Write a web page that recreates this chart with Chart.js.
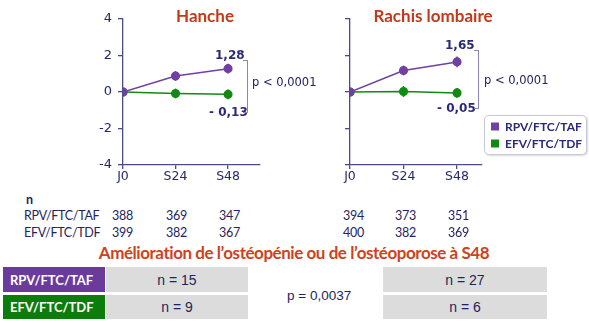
<!DOCTYPE html>
<html>
<head>
<meta charset="utf-8">
<script src="https://cdn.jsdelivr.net/npm/chart.js@4/dist/chart.umd.min.js"></script>
<style>
  html, body { margin:0; padding:0; background:#fff; }
  #root { position:relative; width:589px; height:324px; overflow:hidden; font-family:"DejaVu Sans", sans-serif; color:#1f2460; }
  .abs { position:absolute; white-space:nowrap; }
  .title { font-family:Lato, "Open Sans", sans-serif; font-weight:bold; font-size:17px; color:#c23a19; transform:translate(-50%,-50%); }
  .val { font-family:"DejaVu Sans", sans-serif; font-weight:bold; font-size:12px; color:#2a2a78; transform:translateY(-50%); }
  .pv { font-family:"DejaVu Sans", sans-serif; font-size:11.5px; color:#1f2460; transform:translateY(-50%); }
  .brk { position:absolute; border:1.3px solid #8a84b8; border-left:none; width:4px; }
  .ntab { font-family:Lato, "Open Sans", sans-serif; font-size:12.5px; letter-spacing:-0.3px; color:#1f2460; transform:translateY(-50%); }
  .leg { position:absolute; left:484px; top:115px; width:101px; height:38px; border:1px solid #c8c8dc; border-radius:5px; box-shadow:1px 1px 2px rgba(0,0,0,0.15); background:#fff; }
  .legrow { position:absolute; left:6px; font-family:Lato, "Open Sans", sans-serif; font-weight:bold; font-size:12px; color:#2a2a78; transform:translateY(-50%); }
  .legsq { display:inline-block; width:8px; height:8px; margin-right:6px; vertical-align:-0px; }
  .box { position:absolute; display:flex; align-items:center; justify-content:center; font-family:"Liberation Sans", Arial, sans-serif; font-size:14px; color:#1f2460; }
  .gbox { background:#dcdcdc; }
  .cbox { color:#fff; font-family:Lato, "Open Sans", sans-serif; font-weight:bold; font-size:13px; justify-content:flex-start; padding-left:7px; box-sizing:border-box; }
</style>
</head>
<body>
<div id="root">
  <canvas id="c1" class="abs" style="left:0;top:0;"></canvas>
  <canvas id="c2" class="abs" style="left:300px;top:0;"></canvas>
</div>
<script>
// ---------- data ----------
const categories = ['J0', 'S24', 'S48'];
const weeks = [0, 24, 48];
const yTicks = [-4, -2, 0, 2, 4];
const seriesNames = ['RPV/FTC/TAF', 'EFV/FTC/TDF'];

const hancheRPV = [0, 0.88, 1.28];
const hancheEFV = [0, -0.08, -0.13];
const hancheRPVerr = [0, 0.27, 0.27];
const hancheEFVerr = [0, 0.27, 0.27];

const rachisRPV = [0, 1.18, 1.65];
const rachisEFV = [0, 0.03, -0.05];
const rachisRPVerr = [0, 0.27, 0.3];
const rachisEFVerr = [0, 0.3, 0.27];

const panelTitles = ['Hanche', 'Rachis lombaire'];
const endLabelsHanche = ['1,28', '- 0,13'];
const endLabelsRachis = ['1,65', '- 0,05'];
const pChart = 'p < 0,0001';

const nHeader = 'n';
const nHancheRPV = [388, 369, 347];
const nHancheEFV = [399, 382, 367];
const nRachisRPV = [394, 373, 351];
const nRachisEFV = [400, 382, 369];

const subTitle = 'Amélioration de l\u2019ostéopénie ou de l\u2019ostéoporose à S48';
const improvHanche = [15, 9];
const improvRachis = [27, 6];
const pImprov = 'p = 0,0037';

// ---------- styles ----------
const PURPLE = '#7040a2';
const GREEN = '#128a12';
const AXIS = '#4b4b8c';
const TICKTXT = '#25286a';

const errPlugin = {
  id: 'errbars',
  afterDatasetsDraw(chart) {
    const ctx = chart.ctx, ys = chart.scales.y;
    chart.data.datasets.forEach((ds, i) => {
      const meta = chart.getDatasetMeta(i);
      ctx.save();
      ctx.strokeStyle = ds.borderColor;
      ctx.lineWidth = 1.5;
      meta.data.forEach((pt, j) => {
        const e = ds.err[j];
        if (!e) return;
        const v = ds.data[j].y;
        ctx.beginPath();
        ctx.moveTo(pt.x, ys.getPixelForValue(v + e));
        ctx.lineTo(pt.x, ys.getPixelForValue(v - e));
        ctx.stroke();
      });
      ctx.restore();
    });
  }
};

function makeChart(id, w, h, rpv, efv, rpvErr, efvErr, showY, yWidth, padRight, xMax) {
  const cv = document.getElementById(id);
  cv.width = w; cv.height = h; cv.style.width = w + 'px'; cv.style.height = h + 'px';
  const mk = (arr) => arr.map((v, i) => ({ x: weeks[i], y: v }));
  return new Chart(cv, {
    type: 'line',
    data: {
      datasets: [
        { label: seriesNames[0], data: mk(rpv), err: rpvErr, borderColor: PURPLE, backgroundColor: PURPLE,
          borderWidth: 1.5, pointRadius: 3.8, pointStyle: 'circle', tension: 0 },
        { label: seriesNames[1], data: mk(efv), err: efvErr, borderColor: GREEN, backgroundColor: GREEN,
          borderWidth: 1.5, pointRadius: 3.8, pointStyle: 'circle', tension: 0 }
      ]
    },
    options: {
      responsive: false, animation: false, devicePixelRatio: 1,
      layout: { padding: { top: 19, right: padRight, left: 0, bottom: 0 } },
      plugins: { legend: { display: false }, tooltip: { enabled: false } },
      scales: {
        x: {
          type: 'linear', min: 0, max: xMax,
          afterBuildTicks: (s) => { s.ticks = weeks.map(v => ({ value: v })); },
          afterFit: (s) => { s.height = 20; },
          border: { display: true, color: AXIS, width: 1.3 },
          grid: { display: true, drawOnChartArea: false, drawTicks: true, tickLength: 4, color: AXIS, lineWidth: 1.3 },
          ticks: { color: TICKTXT, padding: 0, maxRotation: 0, autoSkip: false,
            font: { family: 'DejaVu Sans', size: 12.5 },
            callback: (v) => { const i = weeks.indexOf(v); return i >= 0 ? categories[i] : ''; } }
        },
        y: {
          min: -4, max: 4,
          afterBuildTicks: (s) => { s.ticks = yTicks.map(v => ({ value: v })); },
          afterFit: (s) => { s.width = yWidth; },
          border: { display: true, color: AXIS, width: 1.3 },
          grid: { display: true, drawOnChartArea: false, drawTicks: true, tickLength: 5, color: AXIS, lineWidth: 1.3 },
          ticks: { color: TICKTXT, padding: 6,
            font: { family: 'DejaVu Sans', size: 13 },
            callback: (v) => showY ? String(v) : '' }
        }
      }
    },
    plugins: [errPlugin]
  });
}

makeChart('c1', 300, 185, hancheRPV, hancheEFV, hancheRPVerr, hancheEFVerr, true, 123, 40, 62.6);
makeChart('c2', 289, 185, rachisRPV, rachisEFV, rachisRPVerr, rachisEFVerr, false, 50, 107, 59.2);

// ---------- text overlays ----------
const root = document.getElementById('root');
function add(cls, text, left, top, extra) {
  const d = document.createElement('div');
  d.className = 'abs ' + cls;
  d.textContent = text;
  d.style.left = left + 'px'; d.style.top = top + 'px';
  if (extra) Object.assign(d.style, extra);
  root.appendChild(d);
  return d;
}
add('title', panelTitles[0], 205, 15);
add('title', panelTitles[1], 433, 15);

add('val', endLabelsHanche[0], 215, 55);
add('val', endLabelsHanche[1], 209, 112);
add('val', endLabelsRachis[0], 445, 45);
add('val', endLabelsRachis[1], 437, 108);

function bracket(x, y1, y2) {
  const b = document.createElement('div');
  b.className = 'brk';
  b.style.left = (x - 4) + 'px'; b.style.top = y1 + 'px'; b.style.height = (y2 - y1) + 'px';
  root.appendChild(b);
}
bracket(247, 60, 111);
bracket(478, 50, 107);
add('pv', pChart, 252, 82);
add('pv', pChart, 484, 80);

// legend
const leg = document.createElement('div');
leg.className = 'leg';
root.appendChild(leg);
[[PURPLE, seriesNames[0], 10], [GREEN, seriesNames[1], 27]].forEach(([c, t, y]) => {
  const r = document.createElement('div');
  r.className = 'legrow';
  r.style.top = y + 'px';
  r.innerHTML = '<span class="legsq" style="background:' + c + '"></span>' + t;
  leg.appendChild(r);
});

// n table
add('ntab', nHeader, 26, 199, { fontWeight: 'bold' });
add('ntab', seriesNames[0], 24, 215);
add('ntab', seriesNames[1], 24, 232);
const colsL = [112, 166, 219], colsR = [343, 395, 448];
[[nHancheRPV, nRachisRPV, 215], [nHancheEFV, nRachisEFV, 232]].forEach(([a, b, y]) => {
  a.forEach((v, i) => add('ntab', String(v), colsL[i], y));
  b.forEach((v, i) => add('ntab', String(v), colsR[i], y));
});

// subtitle
add('title', subTitle, 294, 252, { fontSize: '17px', letterSpacing: '-0.45px', color: '#d0421c' });

// improvement boxes
function box(cls, text, x, y, w, h, bg) {
  const d = document.createElement('div');
  d.className = 'box ' + cls;
  d.textContent = text;
  Object.assign(d.style, { left: x + 'px', top: y + 'px', width: w + 'px', height: h + 'px' });
  if (bg) d.style.background = bg;
  root.appendChild(d);
}
box('cbox', seriesNames[0], 3, 267, 102, 25, '#6a3b9c');
box('cbox', seriesNames[1], 3, 295, 102, 24, '#0a7d0a');
box('gbox', 'n = ' + improvHanche[0], 106, 267, 142, 25);
box('gbox', 'n = ' + improvHanche[1], 106, 295, 142, 24);
box('gbox', 'n = ' + improvRachis[0], 383, 267, 164, 25);
box('gbox', 'n = ' + improvRachis[1], 383, 295, 164, 24);
add('pv', pImprov, 287, 295, { fontFamily: '"Liberation Sans", Arial, sans-serif', fontSize: '13.5px' });
</script>
</body>
</html>
